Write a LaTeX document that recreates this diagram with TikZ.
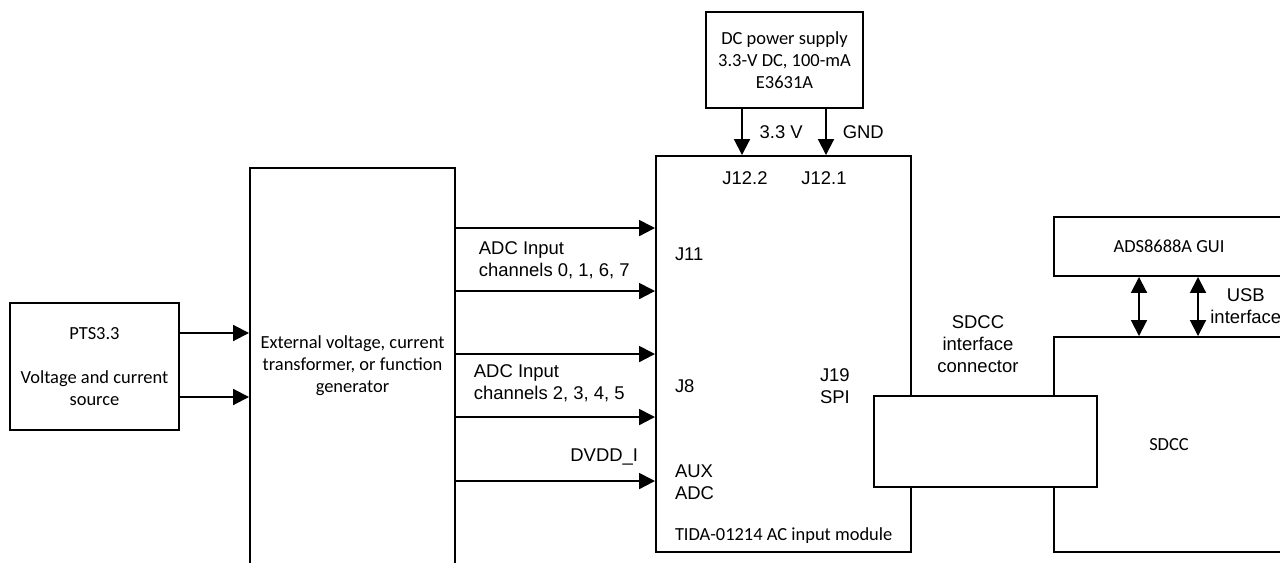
\documentclass[tikz,border=0pt]{standalone}
\usepackage{fontspec}
\setmainfont{Liberation Sans}
\newfontfamily\calibri{Carlito}
\usetikzlibrary{arrows.meta,positioning,calc}

\begin{document}
\begin{tikzpicture}[line width=1.1pt,
  font=\fontsize{10.5}{12.6}\selectfont,
  box/.style={draw, fill=white, inner sep=0pt},
  cal/.style={font=\calibri\fontsize{10.5}{12.6}\selectfont, align=center},
  lbl/.style={inner sep=0pt, align=left},
  arr/.style={-{Triangle[length=9pt,width=9pt]}},
  darr/.style={{Triangle[length=9pt,width=9pt]}-{Triangle[length=9pt,width=9pt]}}]
\useasboundingbox (0,0) rectangle (25.6,-11.26);
\clip (0,0) rectangle (25.6,-11.26);

% blocks
\node[box, minimum width=3.38cm, minimum height=2.54cm, cal] (pts) at (1.89,-7.33) {PTS3.3\\[12.6pt]Voltage and current\\source};
\node[box, minimum width=4.1cm, minimum height=8.64cm] (ext) at (7.05,-7.68) {};
\node[cal] (extlbl) at ([yshift=-3.97cm]ext.north) {External voltage, current\\transformer, or function\\generator};
\node[box, minimum width=5.1cm, minimum height=7.92cm] (mod) at (15.67,-7.08) {};
\node[box, minimum width=3.14cm, minimum height=1.92cm, cal] (dc) at (15.69,-1.2) {DC power supply\\3.3-V DC, 100-mA\\E3631A};
\node[box, minimum width=4.6cm, minimum height=4.3cm, cal] (sdcc) at (23.38,-8.89) {SDCC};
\node[box, minimum width=4.6cm, minimum height=1.18cm, cal] (gui) at (23.38,-4.93) {ADS8688A GUI};
\node[box, minimum width=4.46cm, minimum height=1.82cm] (conn) at (19.71,-8.83) {};

% source to generator
\coordinate (src1) at ([yshift=0.67cm]pts.east);
\coordinate (src2) at ([yshift=-0.61cm]pts.east);
\draw[arr] (src1) -- (src1 -| ext.west);
\draw[arr] (src2) -- (src2 -| ext.west);

% generator to module
\foreach \d [count=\i] in {1.46,2.72,3.98,5.24,6.52} {
  \coordinate (in\i) at ([yshift=-\d cm]mod.north west);
  \draw[arr] (in\i -| ext.east) -- (in\i);
}

% supply
\coordinate (vcc) at ([xshift=-0.85cm]dc.south);
\coordinate (gnd) at ([xshift=0.83cm]dc.south);
\draw[arr] (vcc) -- (vcc |- mod.north) node[midway, right=9.5pt, lbl] {3.3 V};
\draw[arr] (gnd) -- (gnd |- mod.north) node[midway, right=9pt, lbl] {GND};

% usb
\coordinate (usb1) at ([xshift=-0.6cm]gui.south);
\coordinate (usb2) at ([xshift=0.58cm]gui.south);
\draw[darr] (usb1) -- (usb1 |- sdcc.north);
\draw[darr] (usb2) -- (usb2 |- sdcc.north) node[midway, right=6.5pt, lbl, align=center] {USB\\interface};

% labels
\node[lbl] (j122) at ([shift={(1.8,-0.46)}]mod.north west) {J12.2};
\node[lbl] (j121) at ([shift={(3.38,-0.46)}]mod.north west) {J12.1};
\node[lbl, anchor=west] (j11) at ([shift={(0.38,-1.98)}]mod.north west) {J11};
\node[lbl, anchor=west] (j8) at ([shift={(0.38,-4.62)}]mod.north west) {J8};
\node[lbl, anchor=west] (aux) at ([shift={(0.38,-6.54)}]mod.north west) {AUX\\ADC};
\node[lbl, anchor=west] (j19) at ([shift={(3.28,-4.62)}]mod.north west) {J19\\SPI};
\node[lbl, cal, anchor=west] (tida) at ([shift={(0.38,-7.62)}]mod.north west) {TIDA-01214 AC input module};
\node[lbl, anchor=west] (ch1) at ([shift={(0.44,-1.86)}]ext.north east) {ADC Input\\channels 0, 1, 6, 7};
\node[lbl, anchor=west] (ch2) at ([shift={(0.34,-4.32)}]ext.north east) {ADC Input\\channels 2, 3, 4, 5};
\node[lbl, anchor=east] (dvdd) at ([shift={(-0.32,-6.04)}]mod.north west) {DVDD\_I};
\node[lbl, align=center] (connlbl) at ([shift={(-0.15,1.02)}]conn.north) {SDCC\\interface\\connector};
\end{tikzpicture}
\end{document}
